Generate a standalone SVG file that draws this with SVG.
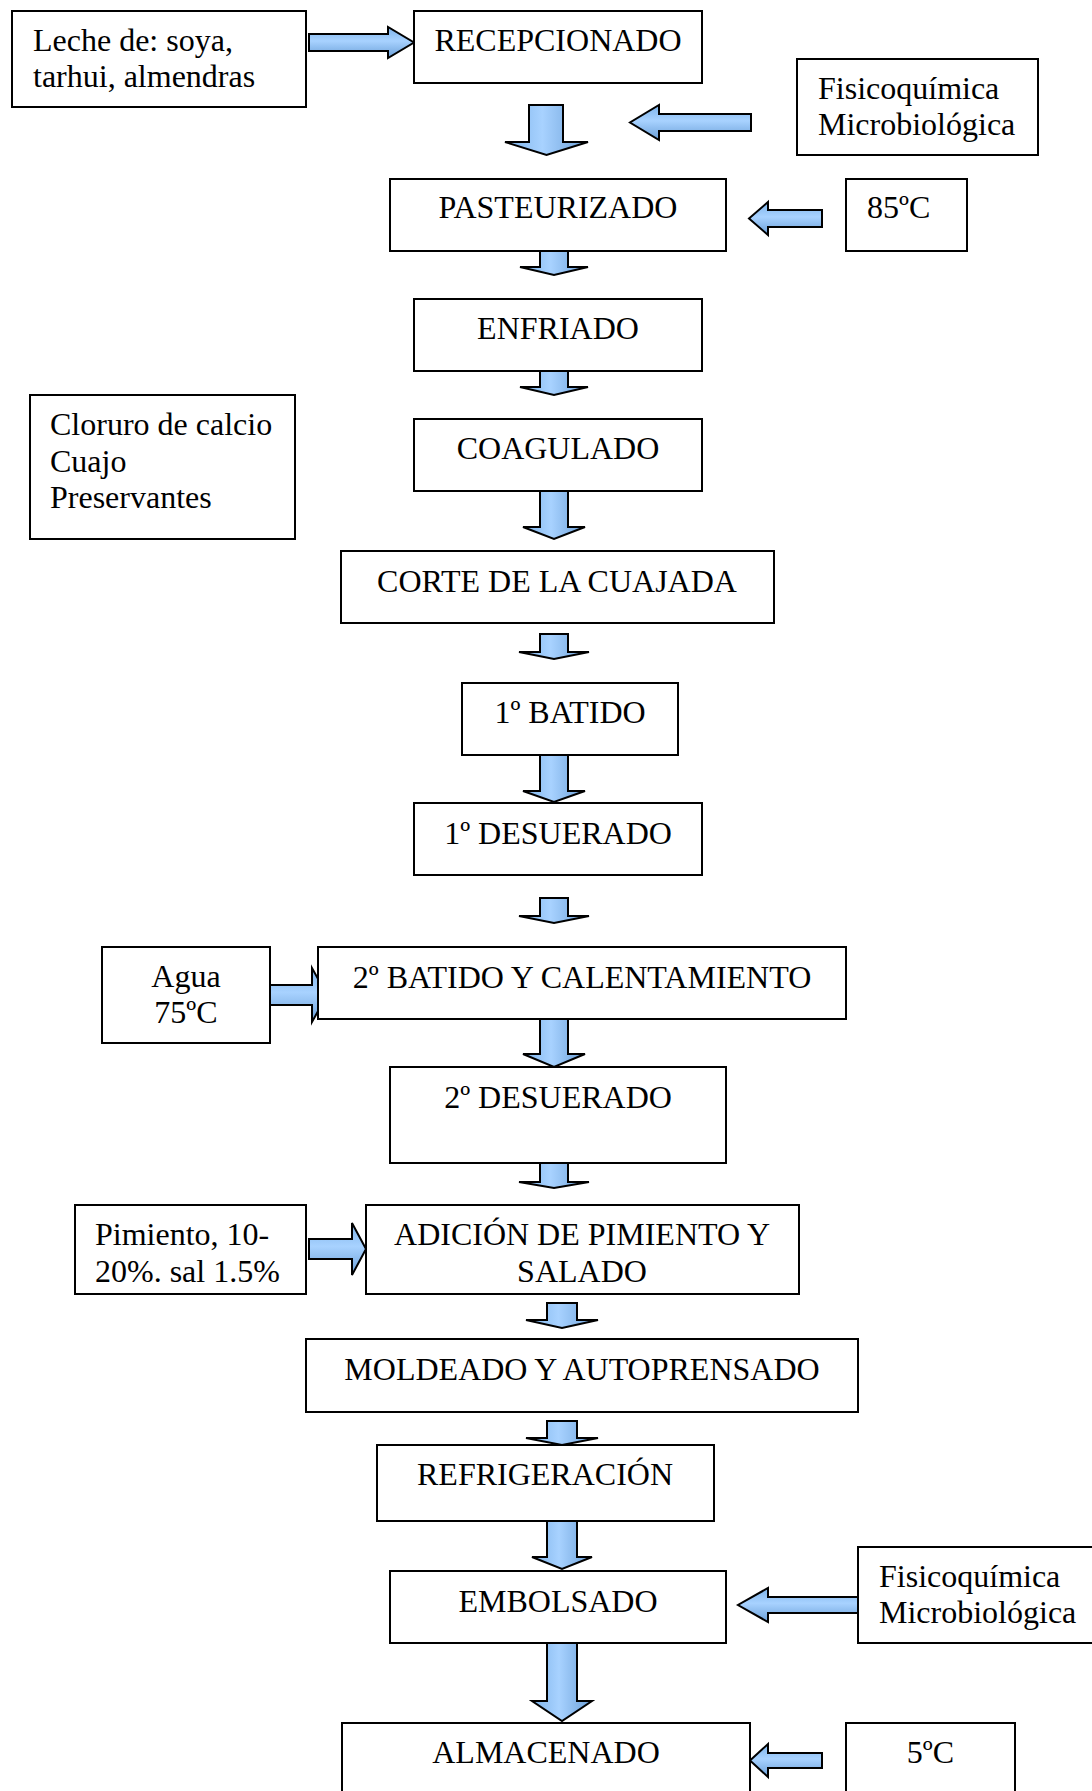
<svg xmlns="http://www.w3.org/2000/svg" width="1092" height="1791" viewBox="0 0 1092 1791">
<style>
.box{fill:#fff;stroke:#000;stroke-width:2}
.t{font-family:"Liberation Serif","Times New Roman",serif;font-size:32px;fill:#000}
.c{text-anchor:middle}
.av{fill:url(#gv);stroke:#000;stroke-width:2;stroke-linejoin:miter}
.ah{fill:url(#gh);stroke:#000;stroke-width:2;stroke-linejoin:miter}
</style>
<defs>
<linearGradient id="gv" x1="0" y1="0" x2="1" y2="0">
<stop offset="0" stop-color="#7db3ea"/><stop offset="0.45" stop-color="#a8d2ff"/><stop offset="1" stop-color="#6a9fd8"/>
</linearGradient>
<linearGradient id="gh" x1="0" y1="0" x2="0" y2="1">
<stop offset="0" stop-color="#7db3ea"/><stop offset="0.45" stop-color="#a8d2ff"/><stop offset="1" stop-color="#6a9fd8"/>
</linearGradient>
</defs>
<g id="connectors">
<path class="ah" d="M309,34 H388 V27 L414,42.5 L388,58 V51 H309 Z"/>
<path class="av" d="M529,105 H563 V142 H588 L546.5,155 L505,142 H529 Z"/>
<path class="ah" d="M751,114 V131 H659 V140 L630,122.5 L659,105 V114 Z"/>
<path class="ah" d="M822,210 V227 H768 V235 L749,218.5 L768,202 V210 Z"/>
<path class="av" d="M540,251 H568 V267 H588 L554,275 L520,267 H540 Z"/>
<path class="av" d="M540,371 H568 V387 H588 L554,395 L520,387 H540 Z"/>
<path class="av" d="M540,491 H568 V527 H585 L554,539 L523,527 H540 Z"/>
<path class="av" d="M540,634 H568 V652 H589 L554,659 L519,652 H540 Z"/>
<path class="av" d="M540,755 H568 V791 H585 L554,802 L523,791 H540 Z"/>
<path class="av" d="M540,898 H568 V916 H589 L554,923 L519,916 H540 Z"/>
<path class="ah" d="M270,985 H312 V968 L327,995 L312,1022 V1005 H270 Z"/>
<path class="av" d="M540,1019 H568 V1054 H585 L554,1067 L523,1054 H540 Z"/>
<path class="av" d="M540,1163 H568 V1182 H589 L554,1188 L519,1182 H540 Z"/>
<path class="ah" d="M309,1239 H352 V1223 L366,1249 L352,1275 V1259 H309 Z"/>
<path class="av" d="M547,1303 H577 V1320 H598 L562,1328 L526,1320 H547 Z"/>
<path class="av" d="M547,1421 H577 V1438 H598 L562,1445 L526,1438 H547 Z"/>
<path class="av" d="M547,1521 H577 V1557 H592 L562,1569 L532,1557 H547 Z"/>
<path class="ah" d="M858,1597 V1613 H768 V1622 L738,1605 L768,1588 V1597 Z"/>
<path class="av" d="M547,1643 H577 V1701 H592 L562,1721 L532,1701 H547 Z"/>
<path class="ah" d="M822,1753 V1768 H768 V1777 L750,1760.5 L768,1744 V1753 Z"/>
</g>
<g id="n-leche"><rect class="box" x="12" y="11" width="294" height="96"/><text class="t" x="33" y="51">Leche de: soya,</text><text class="t" x="33" y="87">tarhui, almendras</text></g>
<g id="n-recepcionado"><rect class="box" x="414" y="11" width="288" height="72"/><text class="t c" x="558" y="51">RECEPCIONADO</text></g>
<g id="n-fisico1"><rect class="box" x="797" y="59" width="241" height="96"/><text class="t" x="818" y="99">Fisicoquímica</text><text class="t" x="818" y="135">Microbiológica</text></g>
<g id="n-pasteurizado"><rect class="box" x="390" y="179" width="336" height="72"/><text class="t c" x="558" y="218">PASTEURIZADO</text></g>
<g id="n-85"><rect class="box" x="846" y="179" width="121" height="72"/><text class="t" x="867" y="218">85ºC</text></g>
<g id="n-enfriado"><rect class="box" x="414" y="299" width="288" height="72"/><text class="t c" x="558" y="339">ENFRIADO</text></g>
<g id="n-cloruro"><rect class="box" x="30" y="395" width="265" height="144"/><text class="t" x="50" y="435">Cloruro de calcio</text><text class="t" x="50" y="472">Cuajo</text><text class="t" x="50" y="508">Preservantes</text></g>
<g id="n-coagulado"><rect class="box" x="414" y="419" width="288" height="72"/><text class="t c" x="558" y="459">COAGULADO</text></g>
<g id="n-corte"><rect class="box" x="341" y="551" width="433" height="72"/><text class="t c" x="557" y="592">CORTE DE LA CUAJADA</text></g>
<g id="n-batido1"><rect class="box" x="462" y="683" width="216" height="72"/><text class="t c" x="570" y="723">1º BATIDO</text></g>
<g id="n-desuerado1"><rect class="box" x="414" y="803" width="288" height="72"/><text class="t c" x="558" y="844">1º DESUERADO</text></g>
<g id="n-agua"><rect class="box" x="102" y="947" width="168" height="96"/><text class="t c" x="186" y="987">Agua</text><text class="t c" x="186" y="1023">75ºC</text></g>
<g id="n-batido2"><rect class="box" x="318" y="947" width="528" height="72"/><text class="t c" x="582" y="988">2º BATIDO Y CALENTAMIENTO</text></g>
<g id="n-desuerado2"><rect class="box" x="390" y="1067" width="336" height="96"/><text class="t c" x="558" y="1108">2º DESUERADO</text></g>
<g id="n-pimiento"><rect class="box" x="75" y="1205" width="231" height="89"/><text class="t" x="95" y="1245">Pimiento, 10-</text><text class="t" x="95" y="1282">20%. sal 1.5%</text></g>
<g id="n-adicion"><rect class="box" x="366" y="1205" width="433" height="89"/><text class="t c" x="582" y="1245">ADICIÓN DE PIMIENTO Y</text><text class="t c" x="582" y="1282">SALADO</text></g>
<g id="n-moldeado"><rect class="box" x="306" y="1339" width="552" height="73"/><text class="t c" x="582" y="1380">MOLDEADO Y AUTOPRENSADO</text></g>
<g id="n-refrigeracion"><rect class="box" x="377" y="1445" width="337" height="76"/><text class="t c" x="545" y="1485">REFRIGERACIÓN</text></g>
<g id="n-embolsado"><rect class="box" x="390" y="1571" width="336" height="72"/><text class="t c" x="558" y="1612">EMBOLSADO</text></g>
<g id="n-fisico2"><rect class="box" x="858" y="1547" width="240" height="96"/><text class="t" x="879" y="1587">Fisicoquímica</text><text class="t" x="879" y="1623">Microbiológica</text></g>
<g id="n-almacenado"><rect class="box" x="342" y="1723" width="408" height="80"/><text class="t c" x="546" y="1763">ALMACENADO</text></g>
<g id="n-5"><rect class="box" x="846" y="1723" width="169" height="80"/><text class="t c" x="930.5" y="1763">5ºC</text></g>
</svg>
